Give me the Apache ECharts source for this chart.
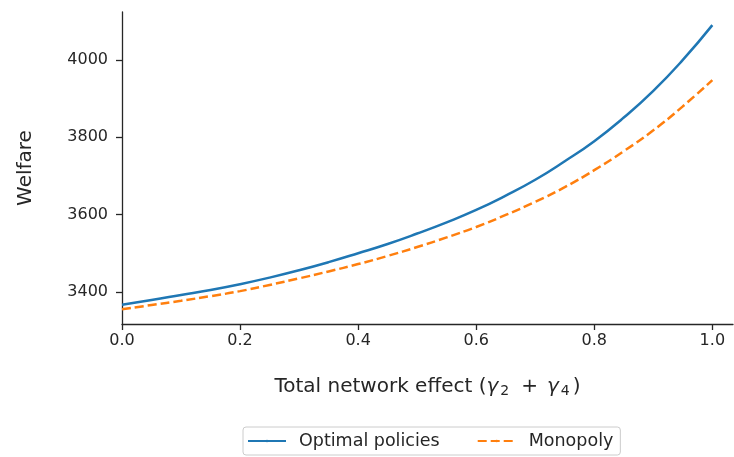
<!DOCTYPE html>
<html>
<head>
<meta charset="utf-8">
<script src="https://cdn.jsdelivr.net/npm/echarts@6/dist/echarts.min.js"></script>
<style>html,body{margin:0;padding:0;background:#fff;}#c{width:734px;height:457px;}</style>
</head>
<body>
<div id="c"></div>
<script>
const xValues = [0.0, 0.05, 0.1, 0.15, 0.2, 0.25, 0.3, 0.35, 0.4, 0.45, 0.5, 0.55, 0.6, 0.65, 0.7, 0.75, 0.8, 0.85, 0.9, 0.95, 1.0];
const optimal = [3367, 3379, 3392, 3405, 3420, 3437, 3456, 3477, 3500, 3524, 3551, 3580, 3612, 3649, 3690, 3738, 3790, 3851, 3920, 4000, 4090];
const monopoly = [3355, 3366, 3377, 3389, 3402, 3418, 3435, 3453, 3472, 3493, 3516, 3541, 3568, 3599, 3633, 3671, 3715, 3764, 3818, 3880, 3948];
const xTicks = [0.0, 0.2, 0.4, 0.6, 0.8, 1.0];
const yTicks = [3400, 3600, 3800, 4000];

const chart = echarts.init(document.getElementById('c'), null, {renderer: 'canvas'});
const font = 'DejaVu Sans';
const ink = '#262626';
chart.setOption({
  animation: false,
  backgroundColor: '#fff',
  textStyle: {fontFamily: font},
  grid: {left: 122, right: 1, top: 12, bottom: 133, containLabel: false},
  legend: {
    left: 243, top: 427,
    padding: [5, 7, 5, 4],
    borderColor: '#cccccc', borderWidth: 1, borderRadius: 3,
    itemWidth: 38, itemHeight: 3, itemGap: 37,
    textStyle: {fontFamily: font, fontSize: 17.5, color: ink, padding: [0, 0, 0, 8]},
    data: ['Optimal policies', 'Monopoly']
  },
  xAxis: {
    type: 'value', min: 0, max: 1.035,
    name: '{n|Total network effect (}{g|γ}{s|2}{p|+}{g|γ}{s|4}{n|)}',
    nameLocation: 'middle', nameGap: 50,
    nameTextStyle: {
      fontFamily: font, fontSize: 20, color: ink,
      rich: {
        n: {fontFamily: font, fontSize: 20, color: ink, height: 26, verticalAlign: 'top'},
        p: {fontFamily: font, fontSize: 20, color: ink, height: 26, verticalAlign: 'top', padding: [0, 9, 0, 9]},
        g: {fontFamily: font, fontSize: 20, fontStyle: 'italic', color: ink, height: 26, verticalAlign: 'top', padding: [0, 1, 0, 0]},
        s: {fontFamily: font, fontSize: 14, color: ink, height: 26, verticalAlign: 'top', padding: [4, 3, 0, 1]}
      }
    },
    axisLine: {show: true, onZero: false, lineStyle: {color: ink, width: 1.3}},
    axisTick: {show: true, length: 6, customValues: xTicks, lineStyle: {color: ink, width: 1.3}},
    axisLabel: {customValues: xTicks, fontSize: 16, color: ink, margin: 9,
      formatter: v => v.toFixed(1)},
    splitLine: {show: false}
  },
  yAxis: {
    type: 'value', min: 3317, max: 4124,
    name: 'Welfare',
    nameLocation: 'middle', nameGap: 86, nameRotate: 90,
    nameTextStyle: {fontFamily: font, fontSize: 20, color: ink},
    axisLine: {show: true, lineStyle: {color: ink, width: 1.3}},
    axisTick: {show: true, length: 6, customValues: yTicks, lineStyle: {color: ink, width: 1.3}},
    axisLabel: {customValues: yTicks, fontSize: 16, color: ink, margin: 14,
      formatter: v => String(v)},
    splitLine: {show: false}
  },
  series: [
    {
      name: 'Optimal policies', type: 'line', smooth: true, symbol: 'none',
      data: xValues.map((x, i) => [x, optimal[i]]),
      lineStyle: {color: '#1f77b4', width: 2.5},
      itemStyle: {color: '#1f77b4'}
    },
    {
      name: 'Monopoly', type: 'line', smooth: true, symbol: 'none',
      data: xValues.map((x, i) => [x, monopoly[i]]),
      lineStyle: {color: '#ff7f0e', width: 2.5, type: [9, 4]},
      itemStyle: {color: '#ff7f0e'}
    }
  ]
});
</script>
</body>
</html>
